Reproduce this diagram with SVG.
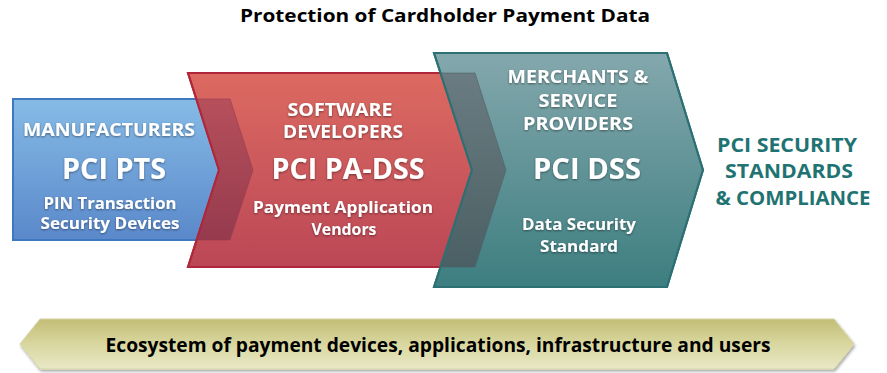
<svg xmlns="http://www.w3.org/2000/svg" width="887" height="373" viewBox="0 0 887 373">
<defs>
<linearGradient id="gBlue" x1="0" y1="0" x2="0" y2="1"><stop offset="0" stop-color="#86bbe6"/><stop offset="1" stop-color="#5a88ca"/></linearGradient>
<linearGradient id="gRed" x1="0" y1="0" x2="0" y2="1"><stop offset="0" stop-color="#dc6a61"/><stop offset="1" stop-color="#bb4756"/></linearGradient>
<linearGradient id="gRedOv" x1="0" y1="0" x2="0" y2="1"><stop offset="0" stop-color="#b6505b"/><stop offset="1" stop-color="#963a4e"/></linearGradient>
<linearGradient id="gTeal" x1="0" y1="0" x2="0" y2="1"><stop offset="0" stop-color="#84a8ad"/><stop offset="1" stop-color="#3d7e80"/></linearGradient>
<linearGradient id="gTealOv" x1="0" y1="0" x2="0" y2="1"><stop offset="0" stop-color="#6a7c81"/><stop offset="1" stop-color="#4b6064"/></linearGradient>
<linearGradient id="gBar" x1="0" y1="0" x2="0" y2="1"><stop offset="0" stop-color="#c2bd76"/><stop offset="0.5" stop-color="#d9d79f"/><stop offset="1" stop-color="#e8e8c6"/></linearGradient>
<filter id="ts" x="-10%" y="-30%" width="120%" height="160%"><feDropShadow dx="0" dy="1" stdDeviation="1.2" flood-color="#000" flood-opacity="0.45"/></filter>
<filter id="bs" x="-5%" y="-20%" width="110%" height="150%"><feDropShadow dx="1" dy="2" stdDeviation="1.5" flood-color="#000" flood-opacity="0.35"/></filter>
</defs>
<style>
text{font-family:"Open Sans","Liberation Sans",sans-serif;font-weight:bold;text-anchor:middle}
.w{fill:#fff;filter:url(#ts)}
.s{font-size:18px}
.b{font-size:29px}
.d{font-size:16px}
.r{fill:#1f7372;font-size:20px}
</style>
<text x="445" y="22" font-size="18" fill="#000" textLength="410" lengthAdjust="spacingAndGlyphs">Protection of Cardholder Payment Data</text>
<g id="pts">
<polygon points="13,99 230,99 253,170 230,240 13,240" fill="url(#gBlue)" stroke="#3e78bf" stroke-width="2"/>
</g>
<g id="padss">
<polygon points="188,73 475,73 506,170 475,267 188,267 219,170" fill="url(#gRed)" stroke="#b0263a" stroke-width="2"/>
<polygon points="196.3,99 230,99 253,170 230,240 196.4,240 219,170" fill="url(#gRedOv)" stroke="#9a3b4d" stroke-width="1" stroke-opacity="0.6"/>
<polygon points="188,73 475,73 506,170 475,267 188,267 219,170" fill="none" stroke="#b0263a" stroke-width="2"/>
</g>
<g id="dss">
<polygon points="434,53 667,53 703,170 667,287 434,287 472,170" fill="url(#gTeal)" stroke="#2c7073" stroke-width="2"/>
<polygon points="440.5,73 475,73 506,170 475,267 440.5,267 472,170" fill="url(#gTealOv)" stroke="#4c6166" stroke-width="1" stroke-opacity="0.6"/>
<polygon points="434,53 667,53 703,170 667,287 434,287 472,170" fill="none" stroke="#2c7073" stroke-width="2"/>
</g>
<g id="pts-text">
<text class="w s" x="109" y="136" textLength="172" lengthAdjust="spacingAndGlyphs">MANUFACTURERS</text>
<text class="w b" x="114" y="179" textLength="104" lengthAdjust="spacingAndGlyphs">PCI PTS</text>
<text class="w d" x="110" y="209" textLength="133" lengthAdjust="spacingAndGlyphs">PIN Transaction</text>
<text class="w d" x="110" y="229" textLength="139" lengthAdjust="spacingAndGlyphs">Security Devices</text>
</g>
<g id="padss-text">
<text class="w s" x="340" y="116" textLength="105" lengthAdjust="spacingAndGlyphs">SOFTWARE</text>
<text class="w s" x="343" y="138" textLength="120" lengthAdjust="spacingAndGlyphs">DEVELOPERS</text>
<text class="w b" x="348" y="179" textLength="153" lengthAdjust="spacingAndGlyphs">PCI PA-DSS</text>
<text class="w d" x="343" y="213" textLength="180" lengthAdjust="spacingAndGlyphs">Payment Application</text>
<text class="w d" x="344" y="235" textLength="65" lengthAdjust="spacingAndGlyphs">Vendors</text>
</g>
<g id="dss-text">
<text class="w s" x="578" y="83" textLength="141" lengthAdjust="spacingAndGlyphs">MERCHANTS &amp;</text>
<text class="w s" x="578" y="107" textLength="79" lengthAdjust="spacingAndGlyphs">SERVICE</text>
<text class="w s" x="578" y="130" textLength="110" lengthAdjust="spacingAndGlyphs">PROVIDERS</text>
<text class="w b" x="587" y="179" textLength="108" lengthAdjust="spacingAndGlyphs">PCI DSS</text>
<text class="w d" x="579" y="230" textLength="114" lengthAdjust="spacingAndGlyphs">Data Security</text>
<text class="w d" x="579" y="252" textLength="78" lengthAdjust="spacingAndGlyphs">Standard</text>
</g>
<g id="compliance">
<text class="r" x="787" y="152" textLength="140" lengthAdjust="spacingAndGlyphs">PCI SECURITY</text>
<text class="r" x="789" y="178" textLength="128" lengthAdjust="spacingAndGlyphs">STANDARDS</text>
<text class="r" x="793" y="205" textLength="155" lengthAdjust="spacingAndGlyphs">&amp; COMPLIANCE</text>
</g>
<g id="ecosystem">
<polygon points="40,319 834,319 854,344 834,369 40,369 20,344" fill="url(#gBar)" stroke="#d6d4a2" stroke-width="1" filter="url(#bs)"/>
<text x="438" y="352" font-size="19" fill="#000" textLength="665" lengthAdjust="spacingAndGlyphs">Ecosystem of payment devices, applications, infrastructure and users</text>
</g>
</svg>
